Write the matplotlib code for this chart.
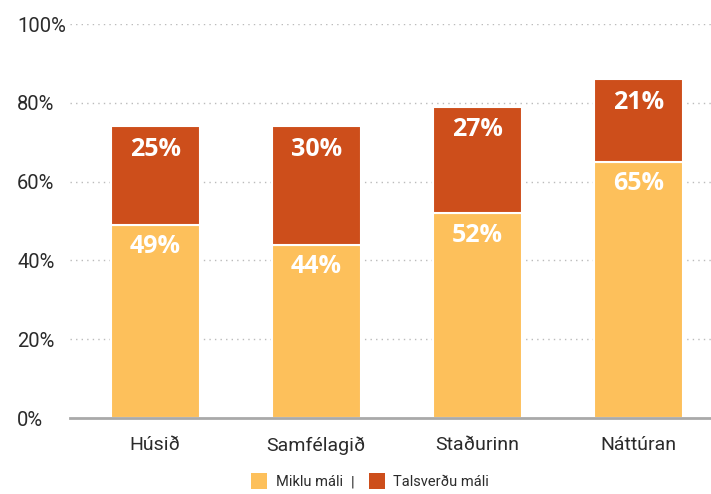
import matplotlib
matplotlib.use("Agg")
import matplotlib.pyplot as plt
from matplotlib.patches import Rectangle
from matplotlib.transforms import offset_copy

categories = ["Húsið", "Samfélagið", "Staðurinn", "Náttúran"]
miklu = [49, 44, 52, 65]
talsverdu = [25, 30, 27, 21]
yticks = [0, 20, 40, 60, 80, 100]
ytick_labels = ["0%", "20%", "40%", "60%", "80%", "100%"]
legend_labels = ["Miklu máli", "Talsverðu máli"]

c_yellow = "#FDC05B"
c_red = "#CD4E1B"
txt = "#2b2b2b"

fig = plt.figure(figsize=(7.11, 4.94), dpi=100)
ax = fig.add_axes([70/711, 1 - 418/494, 641/711, 394/494])

x = list(range(len(categories)))
w = 0.55
ax.bar(x, miklu, width=w, color=c_yellow, edgecolor="white", linewidth=1.5, zorder=3)
ax.bar(x, talsverdu, bottom=miklu, width=w, color=c_red, edgecolor="white", linewidth=1.5, zorder=3)

ax.set_xlim(-0.53, 3.45)
ax.set_ylim(0, 100)

for s in ["top", "right", "left"]:
    ax.spines[s].set_visible(False)
ax.spines["bottom"].set_color("#a9a9a9")
ax.spines["bottom"].set_linewidth(2)
ax.spines["bottom"].set_zorder(4)

ax.set_yticks(yticks)
ax.set_yticklabels(ytick_labels, fontsize=14.5, color=txt, family="Roboto", ha="left")
ax.tick_params(axis="y", length=0, pad=38)
ax.set_xticks(x)
ax.set_xticklabels(categories, fontsize=14, color=txt, family="Roboto")
ax.tick_params(axis="x", length=0, pad=13)

for yv in yticks[1:]:
    ax.axhline(yv, color="#bbbbbb", linestyle=(0, (1, 3)), linewidth=1, zorder=1)

lab_font = dict(color="white", fontsize=18, fontweight="bold", fontstretch="condensed",
                family=["Open Sans"], ha="center", va="center", zorder=5)
for i in x:
    top = miklu[i] + talsverdu[i]
    tr = offset_copy(ax.transData, fig=fig, x=0, y=-23, units="dots")
    ax.text(i, top, f"{talsverdu[i]}%", transform=tr, **lab_font)
    tr2 = offset_copy(ax.transData, fig=fig, x=0, y=-22, units="dots")
    ax.text(i, miklu[i], f"{miklu[i]}%", transform=tr2, **lab_font)

# legend
H = 494.0
W = 711.0
def fx(px):
    return px / W
def fy(py):
    return 1 - py / H

fig.patches.append(Rectangle((fx(251), fy(489)), 16/W, 16/H, transform=fig.transFigure,
                             facecolor=c_yellow, edgecolor="none"))
fig.text(fx(276), fy(482), legend_labels[0], fontsize=10.5, color=txt, family="Roboto", va="center")
fig.text(fx(351), fy(482), "|", fontsize=10.5, color=txt, family="Roboto", va="center")
fig.patches.append(Rectangle((fx(369), fy(489)), 16/W, 16/H, transform=fig.transFigure,
                             facecolor=c_red, edgecolor="none"))
fig.text(fx(393), fy(482), legend_labels[1], fontsize=10.5, color=txt, family="Roboto", va="center")

fig.savefig("out.png", dpi=100)
